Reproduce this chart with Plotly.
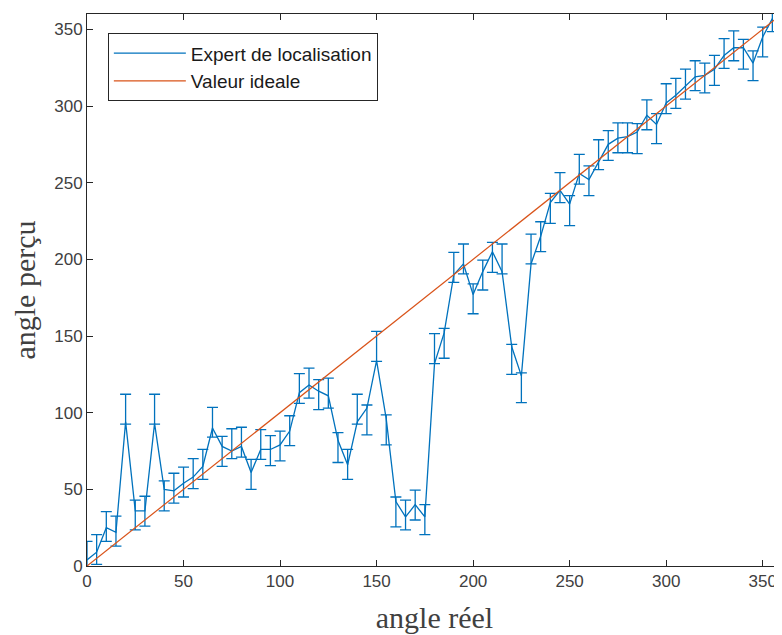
import plotly.graph_objects as go

# Angles (x) every 5 degrees
angles = [0, 5, 10, 15, 20, 25, 30, 35, 40, 45, 50, 55, 60, 65, 70, 75, 80, 85,
          90, 95, 100, 105, 110, 115, 120, 125, 130, 135, 140, 145, 150, 155, 160, 165,
          170, 175, 180, 185, 190, 195, 200, 205, 210, 215, 220, 225, 230, 235, 240, 245,
          250, 255, 260, 265, 270, 275, 280, 285, 290, 295, 300, 305, 310, 315, 320, 325,
          330, 335, 340, 345, 350, 355]

# Perceived angle (expert de localisation)
perceived = [4, 9, 25, 22, 94, 36, 36, 93, 50, 49, 54, 58, 65, 90, 78, 75, 78, 61,
             76, 76, 79, 88, 113, 118, 114, 111, 82, 66, 94, 103, 134, 96, 42, 32,
             40, 32, 132, 152, 190, 197, 177, 192, 205, 192, 143, 124, 197, 215, 237, 245,
             236, 256, 252, 264, 275, 279, 280, 283, 294, 288, 302, 307, 313, 319, 320, 324,
             333, 338, 338, 328, 345, 357]

err_plus = [12, 11.5, 10.5, 10.5, 18, 7, 9.5, 19, 5.5, 11.5, 10.5, 12, 11, 13.5, 6.5, 14.5, 12.5, 8.5,
            13, 9, 9, 10, 12.5, 11, 7.5, 11.5, 5, 10, 18, 2, 19, 2.5, 3, 11,
            9.5, 8, 19.5, 3, 14.5, 13, 7, 7.5, 6, 18, 1.5, 2, 19.5, 9.5, 6, 11.5,
            5.5, 12.5, 9, 14, 9, 10, 9, 5.5, 10, 7, 12.5, 11, 11, 10.5, 8, 9,
            11, 11, 5.5, 8, 6.5, 11]

err_minus = [7.5, 8, 9, 9, 1.5, 12.5, 10, 0.5, 14, 8, 9, 7.5, 8.5, 6, 13, 5, 7, 11,
             6.5, 10.5, 10.5, 9.5, 7, 8.5, 12, 8, 14.5, 9.5, 1.5, 17.5, 0.5, 17, 16.5, 8.5,
             10, 11.5, 0, 16.5, 5, 6.5, 12.5, 12, 13.5, 1.5, 18, 17.5, 0, 10, 13.5, 8,
             14, 7, 10.5, 5.5, 10.5, 9.5, 10.5, 14, 9.5, 12.5, 7, 8.5, 8.5, 9, 11.5, 10.5,
             8.5, 8.5, 14, 11.5, 13, 8.5]

# Ideal value line (y = x)
ideal_x = [0, 360]
ideal_y = [0, 360]

x_ticks = [0, 50, 100, 150, 200, 250, 300, 350]
y_ticks = [0, 50, 100, 150, 200, 250, 300, 350]

BLUE = "#0072BD"
ORANGE = "#D95319"
AX = "#262626"
TXT = "#404040"

fig = go.Figure()
fig.add_trace(go.Scatter(
    x=angles, y=perceived, mode="lines", name="Expert de localisation",
    line=dict(color=BLUE, width=1.3),
    error_y=dict(type="data", symmetric=False, array=err_plus, arrayminus=err_minus,
                 color=BLUE, thickness=1.3, width=5.5),
))
fig.add_trace(go.Scatter(
    x=ideal_x, y=ideal_y, mode="lines", name="Valeur ideale",
    line=dict(color=ORANGE, width=1.2),
))

axis_common = dict(
    showline=True, linecolor=AX, linewidth=1, mirror="ticks",
    ticks="inside", ticklen=6, tickcolor=AX, tickwidth=1,
    showgrid=False, zeroline=False, automargin=False,
    tickfont=dict(family="Liberation Sans, Arial, sans-serif", size=17, color=TXT),
)

fig.update_layout(
    width=774, height=627,
    margin=dict(l=79, r=0, t=6, b=69),
    paper_bgcolor="white", plot_bgcolor="white",
    xaxis=dict(range=[0, 360], tickvals=x_ticks, ticktext=[str(v) for v in x_ticks],
               title=dict(text="angle réel", standoff=16,
                          font=dict(family="Liberation Serif, Times New Roman, serif", size=30, color=TXT)),
               **axis_common),
    yaxis=dict(range=[0, 360], tickvals=y_ticks, ticktext=[str(v) for v in y_ticks],
               title=dict(text="angle perçu", standoff=28,
                          font=dict(family="Liberation Serif, Times New Roman, serif", size=30, color=TXT)),
               **axis_common),
    legend=dict(x=0.03, y=0.965, xanchor="left", yanchor="top",
                bgcolor="white", bordercolor=AX, borderwidth=1,
                font=dict(family="Liberation Sans, Arial, sans-serif", size=19, color="#1a1a1a"),
                itemwidth=72),
    showlegend=True,
)

fig.write_html("out.html")
